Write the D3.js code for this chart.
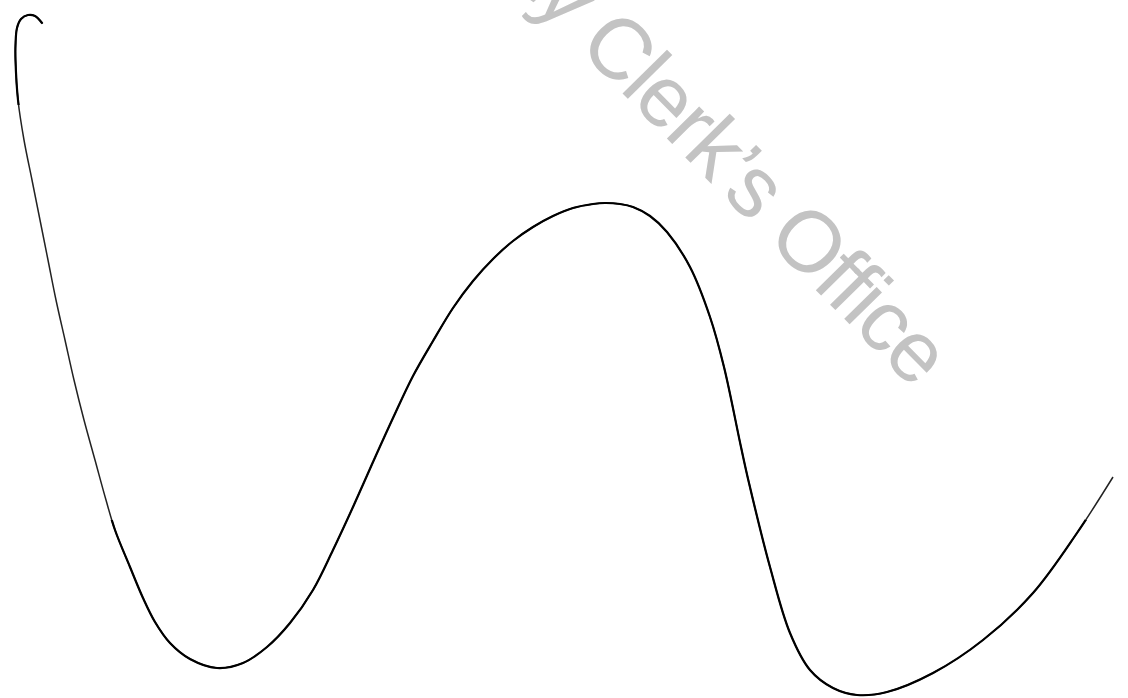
<!DOCTYPE html>
<html>
<head>
<meta charset="utf-8">
<script src="https://cdn.jsdelivr.net/npm/d3@7"></script>
<style>
  body { margin: 0; background: #fff; }
  .watermark { font-family: "Liberation Sans", Arial, sans-serif; fill: #c3c3c3; letter-spacing: -2px; }
</style>
</head>
<body>
<div class="diagram"></div>
<script>
var width = 1128, height = 698;

var xs = [4.2, 3.5, 2.8, 2.1, 1.7, 1.55, 1.55, 1.8, 2.4, 3.2, 4.0, 4.8, 5.6, 6.5, 7.4, 8.4, 9.5, 10.6, 11.5, 13.0,
	14.3, 15.5, 17.0, 19.0, 21.7, 24.3, 26.7, 29.0, 31.3, 33.3, 35.3, 37.3, 39.3, 41.3, 43.3, 45.3, 47.3, 49.3,
	51.3, 53.3, 55.3, 57.3, 59.3, 60.5, 62.0, 63.3, 65.0, 66.7, 69.0, 71.0, 72.4, 74.1, 74.9, 77.0, 79.0, 81.0,
	83.3, 85.7, 88.7, 93.3, 98.3, 103.3, 107.7, 111.3];
var ys = [67.5, 68.2, 68.3, 67.9, 67.0, 65.3, 63.8, 59.8, 55.8, 51.8, 47.8, 43.8, 39.8, 35.8, 31.8, 27.8, 23.8, 19.8, 16.8, 13.1,
	10.0, 7.6, 5.5, 3.9, 3.0, 3.5, 5.1, 7.5, 10.8, 14.8, 19.1, 23.6, 28.0, 32.2, 35.7, 39.0, 41.7, 43.9,
	45.7, 47.1, 48.2, 49.0, 49.4, 49.5, 49.4, 49.1, 48.2, 46.6, 43.1, 38.1, 33.1, 25.1, 21.5, 13.1, 6.5, 2.8,
	1.0, 0.3, 0.6, 2.5, 5.8, 10.5, 16.5, 22.1];

var watermarkText = "County Clerk\u2019s Office";

var svg = d3.select('.diagram')
	.append('svg')
	.attr('width', width)
	.attr('height', height);

var x = d3.scaleLinear().domain([0, 112.8]).range([0, width]);
var y = d3.scaleLinear().domain([0, 69.8]).range([height, 0]);

svg.append('text')
	.attr('class', 'watermark')
	.attr('font-size', 86)
	.attr('text-anchor', 'end')
	.attr('transform', 'translate(913,389) rotate(45.5)')
	.text(watermarkText);

// the scan is faint on the long left descent and the right tail
var clip = svg.append('clipPath').attr('id', 'solid');
clip.append('rect').attr('x', 0).attr('y', 0).attr('width', width).attr('height', 105);
clip.append('rect').attr('x', 0).attr('y', 520).attr('width', width).attr('height', height - 520);
clip.append('rect').attr('x', 125).attr('y', 0).attr('width', 960).attr('height', height);

var points = xs.map(function(d, i) { return [d, ys[i]]; });

var line = d3.line()
	.x(function(d) { return x(d[0]); })
	.y(function(d) { return y(d[1]); })
	.curve(d3.curveCatmullRom.alpha(0.5));

svg.append('path')
	.datum(points)
	.attr('d', line)
	.attr('fill', 'none')
	.attr('stroke', '#222')
	.attr('stroke-width', 1.5);

svg.append('path')
	.datum(points)
	.attr('d', line)
	.attr('clip-path', 'url(#solid)')
	.attr('fill', 'none')
	.attr('stroke', '#000')
	.attr('stroke-width', 2.2)
	.attr('stroke-linecap', 'round');
</script>
</body>
</html>
